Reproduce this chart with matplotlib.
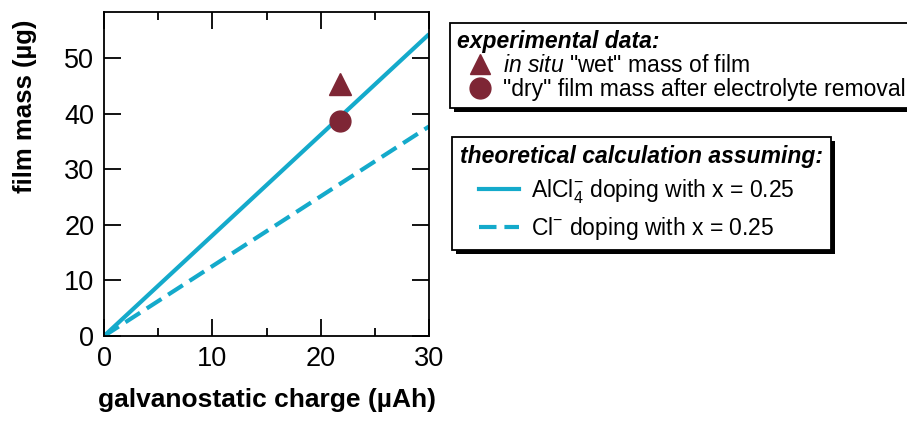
# Film mass vs galvanostatic charge: experiment vs theoretical doping lines
import matplotlib.pyplot as plt
import matplotlib.patheffects as pe
from matplotlib.lines import Line2D
from matplotlib.legend_handler import HandlerLine2D

plt.rcParams["font.family"] = ["Liberation Sans", "DejaVu Sans"]
plt.rcParams["mathtext.fontset"] = "custom"
plt.rcParams["mathtext.rm"] = "Liberation Sans"
plt.rcParams["mathtext.it"] = "Liberation Sans:italic"

# theoretical lines (endpoints)
charge_line = [0, 30]
mass_alcl4 = [0, 54.3]
mass_cl = [0, 37.7]

# experimental points
charge_exp = [21.8]
mass_wet = [45.3]
mass_dry = [38.7]

cyan = "#14aacb"
maroon = "#7e2635"
dash = (0, (4.2, 1.9))
shadow = [pe.SimplePatchShadow(offset=(3, -3), shadow_rgbFace="black", alpha=1), pe.Normal()]


class Indented(HandlerLine2D):
    # legend handle pushed right a bit, like the original figure
    def __init__(self, indent, **kw):
        super().__init__(**kw)
        self.indent = indent

    def create_artists(self, legend, orig_handle, xdescent, ydescent, width, height, fontsize, trans):
        return super().create_artists(legend, orig_handle, xdescent - self.indent, ydescent,
                                      width - self.indent, height, fontsize, trans)


fig = plt.figure(figsize=(9.07, 4.25), dpi=100)
ax = fig.add_axes([0.1147, 0.2094, 0.3583, 0.7624])

ax.plot(charge_line, mass_alcl4, color=cyan, lw=3, solid_capstyle="butt")
ax.plot(charge_line, mass_cl, color=cyan, lw=3, ls=dash)
ax.plot(charge_exp, mass_wet, marker="^", ms=16, color=maroon, ls="none")
ax.plot(charge_exp, mass_dry, marker="o", ms=15, color=maroon, ls="none")

ax.set_xlim(0, 30)
ax.set_ylim(0, 58.3)
ax.set_xticks([0, 10, 20, 30])
ax.set_xticks([5, 15, 25], minor=True)
ax.set_yticks([0, 10, 20, 30, 40, 50])
ax.tick_params(which="major", direction="in", length=12, width=1.3,
               top=True, right=True, labelsize=19.5, pad=7)
ax.tick_params(which="minor", direction="in", length=6, width=1.3,
               top=True, right=True)
for s in ax.spines.values():
    s.set_linewidth(1.3)

ax.set_xlabel("galvanostatic charge (µAh)", fontsize=19, fontweight="bold", labelpad=12)
ax.set_ylabel("film mass (µg)", fontsize=18.5, fontweight="bold")
ax.yaxis.set_label_coords(-0.205, 0.71)

# legend 1: experimental data
h1 = [Line2D([], [], marker="^", ms=15, color=maroon, ls="none"),
      Line2D([], [], marker="o", ms=15, color=maroon, ls="none")]
lab1 = [r"$\it{in\ situ}$" + " \"wet\" mass of film",
        "\"dry\" film mass after electrolyte removal"]
leg1 = fig.legend(h1, lab1, loc="upper left", bbox_to_anchor=(0.496, 0.946),
                  title="experimental data:", alignment="left",
                  fontsize=16.5, frameon=True, fancybox=False, shadow=False,
                  framealpha=1, edgecolor="black", borderpad=0.3, labelspacing=0.05,
                  handletextpad=0.4, handlelength=1.6, borderaxespad=0,
                  handler_map={Line2D: Indented(7)})
leg1.get_title().set_fontsize(16.5)
leg1.get_title().set_fontweight("bold")
leg1.get_title().set_fontstyle("italic")
leg1.get_frame().set_linewidth(1.3)
leg1.get_frame().set_path_effects(shadow)

# legend 2: theoretical calculation
h2 = [Line2D([], [], color=cyan, lw=3),
      Line2D([], [], color=cyan, lw=3, ls=dash)]
lab2 = ["AlCl$_4^{-}$ doping with x = 0.25",
        "Cl$^{-}$ doping with x = 0.25"]
leg2 = fig.legend(h2, lab2, loc="upper left", bbox_to_anchor=(0.498, 0.678),
                  title="theoretical calculation assuming:", alignment="left",
                  fontsize=16.5, frameon=True, fancybox=False, shadow=False,
                  framealpha=1, edgecolor="black", borderpad=0.35, labelspacing=0.4,
                  handletextpad=0.5, handlelength=2.6, borderaxespad=0,
                  handler_map={Line2D: Indented(14)})
leg2.get_title().set_fontsize(16.5)
leg2.get_title().set_fontweight("bold")
leg2.get_title().set_fontstyle("italic")
leg2.get_frame().set_linewidth(1.3)
leg2.get_frame().set_path_effects(shadow)

fig.savefig("out.png", dpi=100)
